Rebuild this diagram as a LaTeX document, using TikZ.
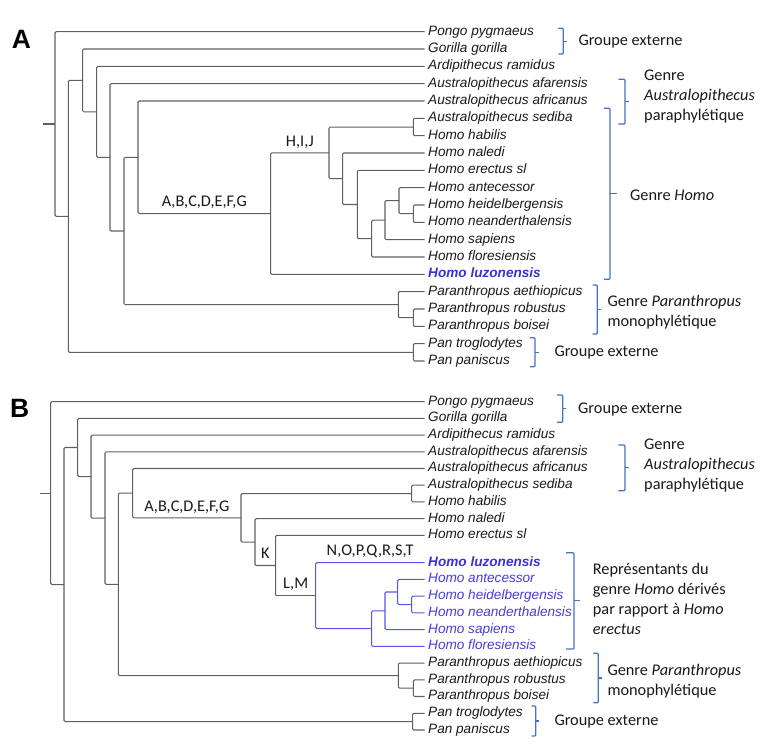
\documentclass[tikz,border=0pt]{standalone}
\usepackage{fontspec}
\setmainfont{Liberation Sans}
\newfontfamily\calfont{Carlito}

\definecolor{treegray}{RGB}{95,95,95}
\definecolor{homoline}{RGB}{85,85,235}
\definecolor{homotext}{RGB}{70,60,215}
\definecolor{luzontext}{RGB}{55,50,215}
\definecolor{brkblue}{RGB}{68,114,196}

\tikzset{
  branch/.style={draw=treegray, line width=1.05pt, rounded corners=1.2pt},
  hbranch/.style={branch, draw=homoline},
  taxon/.style={anchor=west, inner xsep=3.5pt, inner ysep=0pt, text=black!90,
    font=\fontsize{13.6}{16}\selectfont\itshape, text height=9.8pt, text depth=2.9pt},
  htaxon/.style={taxon, text=homotext},
  luzon/.style={taxon, text=luzontext, font=\fontsize{13.6}{16}\selectfont\bfseries\itshape},
  clade/.style={inner sep=1pt, text depth=2.2pt, text=black!90, font=\calfont\fontsize{16.3}{20}\selectfont},
  group/.style={anchor=west, inner sep=0pt, align=left, text=black!90, font=\calfont\fontsize{16.3}{20}\selectfont},
  brk/.style={draw=brkblue, line width=1.2pt, rounded corners=1pt},
  panel/.style={anchor=base west, inner sep=0pt, font=\fontsize{26.5}{30}\selectfont\bfseries}
}

\begin{document}
\begin{tikzpicture}[x=1pt,y=-1pt]
\useasboundingbox (0,0) rectangle (760,749);

% ---------- panel A ----------
\node[panel] (labA) at (11.7,48.3) {A};

\node[taxon] (pongoA) at (424.5,31.7) {Pongo pygmaeus};
\node[taxon] (gorillaA) at (424.5,49.0) {Gorilla gorilla};
\node[taxon] (ardiA) at (424.5,66.4) {Ardipithecus ramidus};
\node[taxon] (afarA) at (424.5,83.7) {Australopithecus afarensis};
\node[taxon] (afriA) at (424.5,101.0) {Australopithecus africanus};
\node[taxon] (sedibaA) at (424.5,118.4) {Australopithecus sediba};
\node[taxon] (habilisA) at (424.5,135.7) {Homo habilis};
\node[taxon] (nalediA) at (424.5,153.0) {Homo naledi};
\node[taxon] (erectusA) at (424.5,170.3) {Homo erectus sl};
\node[taxon] (antecA) at (424.5,187.7) {Homo antecessor};
\node[taxon] (heidelA) at (424.5,205.0) {Homo heidelbergensis};
\node[taxon] (neandA) at (424.5,222.3) {Homo neanderthalensis};
\node[taxon] (sapiensA) at (424.5,239.7) {Homo sapiens};
\node[taxon] (floresA) at (424.5,257.0) {Homo floresiensis};
\node[luzon] (luzonA) at (424.5,274.3) {Homo luzonensis};
\node[taxon] (aethA) at (424.5,291.7) {Paranthropus aethiopicus};
\node[taxon] (robustA) at (424.5,309.0) {Paranthropus robustus};
\node[taxon] (boiseiA) at (424.5,326.3) {Paranthropus boisei};
\node[taxon] (trogA) at (424.5,343.6) {Pan troglodytes};
\node[taxon] (paniscA) at (424.5,361.0) {Pan paniscus};

\coordinate (rootA) at (43.3,124.0);
\coordinate (rA) at (55,124.0);
\coordinate (a1A) at (68.3,216.4);
\coordinate (a2A) at (82.7,80.4);
\coordinate (a3A) at (96.7,111.9);
\coordinate (a4A) at (110,157.3);
\coordinate (a5A) at (124,231.0);
\coordinate (a6A) at (138,157.3);
\coordinate (a7A) at (270.7,213.6);
\coordinate (a8A) at (329,152.9);
\coordinate (shA) at (413.3,127.05);
\coordinate (a9A) at (342.7,178.7);
\coordinate (a10A) at (357.3,204.5);
\coordinate (a11A) at (371.7,238.6);
\coordinate (a12A) at (385,220.2);
\coordinate (a13A) at (399,200.7);
\coordinate (hnA) at (413.3,213.65);
\coordinate (paraA) at (398.3,304.7);
\coordinate (rbA) at (413.3,317.65);
\coordinate (panA) at (413.3,352.3);

\draw[branch] (rootA) -- (rA);
\draw[branch] (pongoA.west) -| (rA) |- (a1A);
\draw[branch] (a2A) -| (a1A) |- (panA);
\draw[branch] (gorillaA.west) -| (a2A) |- (a3A);
\draw[branch] (ardiA.west) -| (a3A) |- (a4A);
\draw[branch] (afarA.west) -| (a4A) |- (a5A);
\draw[branch] (a6A) -| (a5A) |- (paraA);
\draw[branch] (afriA.west) -| (a6A) |- (a7A) node[clade,pos=.75,above=3pt] {A,B,C,D,E,F,G};
\draw[branch] (luzonA.west) -| (a7A) |- (a8A) node[clade,pos=.75,above=3pt] {H,I,J};
\draw[branch] (shA) -| (a8A) |- (a9A);
\draw[branch] (sedibaA.west) -| (shA) |- (habilisA.west);
\draw[branch] (nalediA.west) -| (a9A) |- (a10A);
\draw[branch] (erectusA.west) -| (a10A) |- (a11A);
\draw[branch] (a12A) -| (a11A) |- (floresA.west);
\draw[branch] (a13A) -| (a12A) |- (sapiensA.west);
\draw[branch] (antecA.west) -| (a13A) |- (hnA);
\draw[branch] (heidelA.west) -| (hnA) |- (neandA.west);
\draw[branch] (aethA.west) -| (paraA) |- (rbA);
\draw[branch] (robustA.west) -| (rbA) |- (boiseiA.west);
\draw[branch] (trogA.west) -| (panA) |- (paniscA.west);

% brackets A
\draw[brk] (558.3,28.3) -- (563.3,28.3) -- (563.3,54) -- (558.3,54);
\draw[brk] (563.3,41.2) -- (567,41.2);
\draw[brk] (618.3,79.3) -- (625,79.3) -- (625,124) -- (618.3,124);
\draw[brk] (625,101.7) -- (628.5,101.7);
\draw[brk] (604,108.3) -- (610,108.3) -- (610,279.3) -- (604,279.3);
\draw[brk] (610,193.8) -- (616.5,193.8);
\draw[brk] (592.7,285) -- (597.3,285) -- (597.3,334) -- (592.7,334);
\draw[brk] (597.3,309.5) -- (600.7,309.5);
\draw[brk] (530,337.7) -- (535,337.7) -- (535,366.7) -- (530,366.7);
\draw[brk] (535,352.2) -- (538.5,352.2);

\node[group] (outA) at (578.3,41.3) {Groupe externe};
\node[group] (austA) at (644,97) {Genre\\\textit{Australopithecus}\\paraphylétique};
\node[group] (homoA) at (630,195) {Genre \textit{Homo}};
\node[group] (paraGA) at (607.3,311.7) {Genre \textit{Paranthropus}\\monophylétique};
\node[group] (panGA) at (554.3,352.3) {Groupe externe};

% ---------- panel B ----------
\node[panel] (labB) at (10,417.7) {B};

\node[taxon] (pongoB) at (424.5,401.7) {Pongo pygmaeus};
\node[taxon] (gorillaB) at (424.5,418.4) {Gorilla gorilla};
\node[taxon] (ardiB) at (424.5,435.1) {Ardipithecus ramidus};
\node[taxon] (afarB) at (424.5,451.8) {Australopithecus afarensis};
\node[taxon] (afriB) at (424.5,468.5) {Australopithecus africanus};
\node[taxon] (sedibaB) at (424.5,485.2) {Australopithecus sediba};
\node[taxon] (habilisB) at (424.5,501.9) {Homo habilis};
\node[taxon] (nalediB) at (424.5,518.6) {Homo naledi};
\node[taxon] (erectusB) at (424.5,535.3) {Homo erectus sl};
\node[luzon] (luzonB) at (424.5,562.7) {Homo luzonensis};
\node[htaxon] (antecB) at (424.5,579.4) {Homo antecessor};
\node[htaxon] (heidelB) at (424.5,596.2) {Homo heidelbergensis};
\node[htaxon] (neandB) at (424.5,612.9) {Homo neanderthalensis};
\node[htaxon] (sapiensB) at (424.5,629.6) {Homo sapiens};
\node[htaxon] (floresB) at (424.5,646.4) {Homo floresiensis};
\node[taxon] (aethB) at (424.5,663.1) {Paranthropus aethiopicus};
\node[taxon] (robustB) at (424.5,679.8) {Paranthropus robustus};
\node[taxon] (boiseiB) at (424.5,696.5) {Paranthropus boisei};
\node[taxon] (trogB) at (424.5,713.3) {Pan troglodytes};
\node[taxon] (paniscB) at (424.5,730.0) {Pan paniscus};

\coordinate (rootB) at (40,493.15);
\coordinate (rB) at (50.7,493.15);
\coordinate (b1B) at (64,584.6);
\coordinate (b2B) at (77.7,447.5);
\coordinate (b3B) at (91,476.6);
\coordinate (b4B) at (105,518.1);
\coordinate (b5B) at (118.3,584.4);
\coordinate (b6B) at (132.7,493.15);
\coordinate (b8B) at (241,517.8);
\coordinate (shB) at (411.7,493.55);
\coordinate (b9B) at (255,542.05);
\coordinate (bKB) at (275.7,565.5);
\coordinate (bLB) at (315.7,595.65);
\coordinate (b11B) at (371.7,628.6);
\coordinate (b12B) at (385,610.8);
\coordinate (b13B) at (397.7,592.0);
\coordinate (hnB) at (411.7,604.55);
\coordinate (paraB) at (398.3,675.6);
\coordinate (rbB) at (413.3,688.15);
\coordinate (panB) at (412.7,721.65);

\draw[branch] (rootB) -- (rB);
\draw[branch] (pongoB.west) -| (rB) |- (b1B);
\draw[branch] (b2B) -| (b1B) |- (panB);
\draw[branch] (gorillaB.west) -| (b2B) |- (b3B);
\draw[branch] (ardiB.west) -| (b3B) |- (b4B);
\draw[branch] (afarB.west) -| (b4B) |- (b5B);
\draw[branch] (b6B) -| (b5B) |- (paraB);
\draw[branch] (afriB.west) -| (b6B) |- (b8B) node[clade,pos=.75,above=3pt] {A,B,C,D,E,F,G};
\draw[branch] (shB) -| (b8B) |- (b9B);
\draw[branch] (sedibaB.west) -| (shB) |- (habilisB.west);
\draw[branch] (nalediB.west) -| (b9B) |- (bKB) node[clade,pos=.75,above=3pt] {K};
\draw[branch] (erectusB.west) -| (bKB) -- (bKB |- bLB);
\draw[hbranch] (bKB |- bLB) -- (bLB) node[clade,midway,above=3pt] {L,M};
\draw[hbranch] (luzonB.west) -| (bLB) node[clade,pos=.25,above=3pt] {N,O,P,Q,R,S,T} |- (b11B);
\draw[hbranch] (b12B) -| (b11B) |- (floresB.west);
\draw[hbranch] (b13B) -| (b12B) |- (sapiensB.west);
\draw[hbranch] (antecB.west) -| (b13B) |- (hnB);
\draw[hbranch] (heidelB.west) -| (hnB) |- (neandB.west);
\draw[branch] (aethB.west) -| (paraB) |- (rbB);
\draw[branch] (robustB.west) -| (rbB) |- (boiseiB.west);
\draw[branch] (trogB.west) -| (panB) |- (paniscB.west);

% brackets B
\draw[brk] (557,395) -- (562.7,395) -- (562.7,422.3) -- (557,422.3);
\draw[brk] (562.7,408.7) -- (566.2,408.7);
\draw[brk] (618.3,445) -- (625,445) -- (625,490.7) -- (618.3,490.7);
\draw[brk] (625,467.8) -- (628.5,467.8);
\draw[brk] (566,552.7) -- (574,552.7) -- (574,649) -- (566,649);
\draw[brk] (574,600.8) -- (580,600.8);
\draw[brk] (593.3,653.3) -- (598.3,653.3) -- (598.3,702.7) -- (593.3,702.7);
\draw[brk] (598.3,678) -- (601.7,678);
\draw[brk] (531.7,706) -- (535.7,706) -- (535.7,736) -- (531.7,736);
\draw[brk] (535.7,721) -- (539.2,721);

\node[group] (outB) at (578,410) {Groupe externe};
\node[group] (austB) at (644,466) {Genre\\\textit{Australopithecus}\\paraphylétique};
\node[group] (repB) at (592.7,599.3) {Représentants du\\genre \textit{Homo} dérivés\\par rapport à \textit{Homo}\\\textit{erectus}};
\node[group] (paraGB) at (607.3,680.7) {Genre \textit{Paranthropus}\\monophylétique};
\node[group] (panGB) at (554.3,721.7) {Groupe externe};
\end{tikzpicture}
\end{document}
